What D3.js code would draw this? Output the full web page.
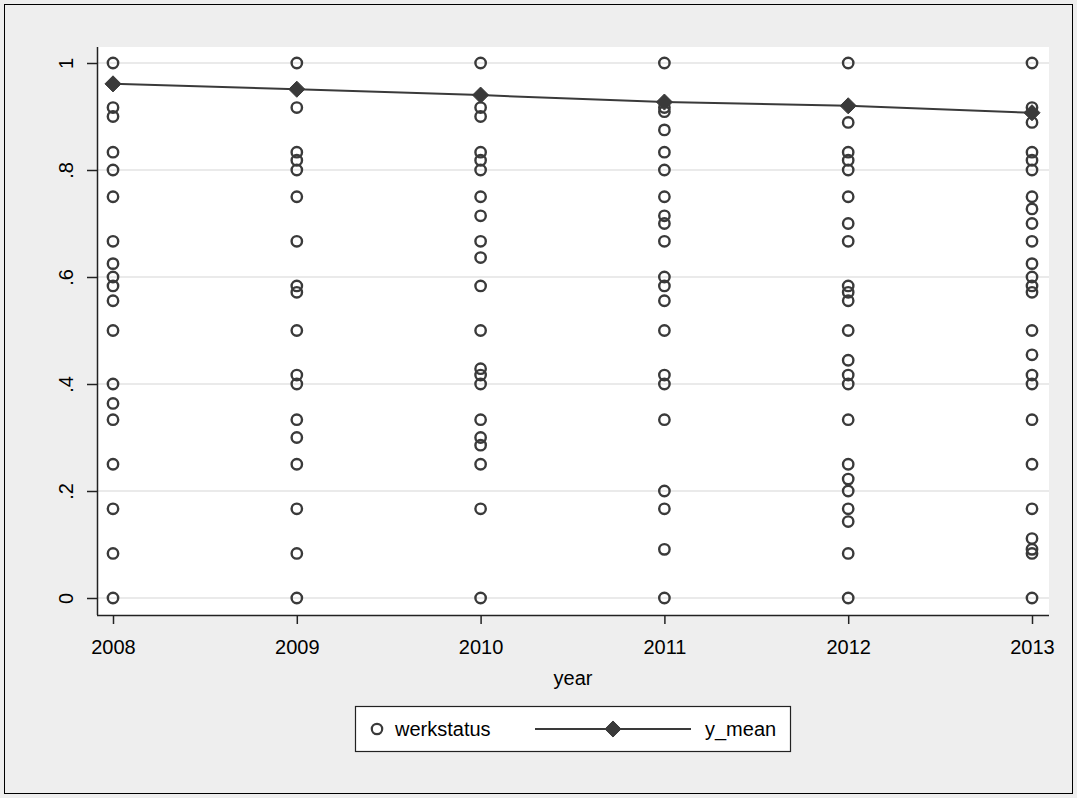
<!DOCTYPE html>
<html>
<head>
<meta charset="utf-8">
<script src="https://cdn.jsdelivr.net/npm/d3@7/dist/d3.min.js"></script>
<style>
  html, body { margin: 0; padding: 0; background: #eeeeee; }
  svg { display: block; font-family: "Liberation Sans", Arial, sans-serif; }
</style>
</head>
<body>
<svg id="chart" width="1077" height="798"></svg>
<script>
// Survey years on the x axis
const years = [2008, 2009, 2010, 2011, 2012, 2013];

// Observed werkstatus shares per year (distinct values)
const werk2008 = [1, .9167, .9, .8333, .8, .75, .6667, .625, .6, .5833, .5556, .5, .4, .3636, .3333, .25, .1667, .0833, 0];
const werk2009 = [1, .9167, .8333, .8182, .8, .75, .6667, .5833, .5714, .5, .4167, .4, .3333, .3, .25, .1667, .0833, 0];
const werk2010 = [1, .9167, .9, .8333, .8182, .8, .75, .7143, .6667, .6364, .5833, .5, .4286, .4167, .4, .3333, .3, .2857, .25, .1667, 0];
const werk2011 = [1, .9167, .9091, .875, .8333, .8, .75, .7143, .7, .6667, .6, .5833, .5556, .5, .4167, .4, .3333, .2, .1667, .0909, 0];
const werk2012 = [1, .8889, .8333, .8182, .8, .75, .7, .6667, .5833, .5714, .5556, .5, .4444, .4167, .4, .3333, .25, .2222, .2, .1667, .1429, .0833, 0];
const werk2013 = [1, .9167, .8889, .8333, .8182, .8, .75, .7273, .7, .6667, .625, .6, .5833, .5714, .5, .4545, .4167, .4, .3333, .25, .1667, .1111, .0909, .0833, 0];

// Yearly mean of werkstatus
const yMean = [0.961, 0.951, 0.940, 0.927, 0.920, 0.907];

// Axis tick values and labels
const yTicks = [0, 0.2, 0.4, 0.6, 0.8, 1];
const yTickLabels = ["0", ".2", ".4", ".6", ".8", "1"];
const legendLabels = ["werkstatus", "y_mean"];

const werkByYear = [werk2008, werk2009, werk2010, werk2011, werk2012, werk2013];
const points = [];
years.forEach((yr, i) => werkByYear[i].forEach(v => points.push({ year: yr, value: v })));
const meanSeries = years.map((yr, i) => ({ year: yr, value: yMean[i] }));

const svg = d3.select("#chart");
const W = 1077, H = 798;
const ink = "#3a3a3a";

// Outer graph region
svg.append("rect").attr("x", 0).attr("y", 0).attr("width", W).attr("height", H).attr("fill", "#eeeeee");
svg.append("rect").attr("x", 4.5).attr("y", 4.5).attr("width", W - 9).attr("height", H - 9)
  .attr("fill", "none").attr("stroke", "#000").attr("stroke-width", 1);

// Plot region
const plot = { left: 97, right: 1049, top: 47, bottom: 615 };
svg.append("rect").attr("x", plot.left).attr("y", plot.top)
  .attr("width", plot.right - plot.left).attr("height", plot.bottom - plot.top).attr("fill", "#ffffff");

const x = d3.scaleLinear().domain([2008, 2013]).range([113, 1032]);
const y = d3.scaleLinear().domain([0, 1]).range([598, 63]);

// Horizontal gridlines
svg.append("g").selectAll("line").data(yTicks).join("line")
  .attr("x1", plot.left).attr("x2", plot.right)
  .attr("y1", d => y(d)).attr("y2", d => y(d))
  .attr("stroke", "#eaeaea").attr("stroke-width", 2);

// Y axis with vertical tick labels
const yAxis = d3.axisLeft(y).tickValues(yTicks).tickFormat((d, i) => yTickLabels[i]).tickSize(10).tickPadding(12);
const gy = svg.append("g").attr("transform", `translate(${plot.left},0)`).call(yAxis);
gy.select(".domain").attr("d", `M0.5,${plot.top}V${plot.bottom}`).attr("stroke", "#222").attr("stroke-width", 1.5);
gy.selectAll(".tick line").attr("stroke", "#222").attr("stroke-width", 1.5);
gy.selectAll(".tick text")
  .attr("font-size", 20).attr("fill", "#000").attr("font-family", "Liberation Sans, Arial, sans-serif")
  .attr("text-anchor", "middle")
  .attr("transform", "translate(-31,0) rotate(-90)")
  .attr("x", 0).attr("y", 0).attr("dy", "0.35em");

// X axis
const xAxis = d3.axisBottom(x).tickValues(years).tickFormat(d3.format("d")).tickSize(9).tickPadding(16);
const gx = svg.append("g").attr("transform", `translate(0,${plot.bottom})`).call(xAxis);
gx.select(".domain").attr("d", `M${plot.left},0.5H${plot.right}`).attr("stroke", "#222").attr("stroke-width", 1.5);
gx.selectAll(".tick line").attr("stroke", "#222").attr("stroke-width", 1.5);
gx.selectAll(".tick text").attr("font-size", 20).attr("fill", "#000")
  .attr("font-family", "Liberation Sans, Arial, sans-serif");

// X axis title
svg.append("text").attr("x", (plot.left + plot.right) / 2).attr("y", 685)
  .attr("text-anchor", "middle").attr("font-size", 20).attr("fill", "#000").text("year");

// Scatter of werkstatus
svg.append("g").selectAll("circle").data(points).join("circle")
  .attr("cx", d => x(d.year)).attr("cy", d => y(d.value)).attr("r", 5.2)
  .attr("fill", "none").attr("stroke", ink).attr("stroke-width", 2.4);

// Mean line with diamond markers
const line = d3.line().x(d => x(d.year)).y(d => y(d.value));
svg.append("path").datum(meanSeries).attr("d", line)
  .attr("fill", "none").attr("stroke", ink).attr("stroke-width", 2);
const diamond = d3.symbol().type(d3.symbolDiamond2).size(165);
svg.append("g").selectAll("path").data(meanSeries).join("path")
  .attr("transform", d => `translate(${x(d.year)},${y(d.value)})`)
  .attr("d", diamond).attr("fill", ink).attr("stroke", ink).attr("stroke-width", 1);

// Legend
const lg = svg.append("g");
const legX = 355, legY = 706, legW = 435, legH = 45;
lg.append("rect").attr("x", legX + 0.5).attr("y", legY + 0.5).attr("width", legW).attr("height", legH)
  .attr("fill", "#fff").attr("stroke", "#222").attr("stroke-width", 1.2);
const midY = legY + legH / 2 + 0.5;
lg.append("circle").attr("cx", legX + 22).attr("cy", midY).attr("r", 5.2)
  .attr("fill", "none").attr("stroke", ink).attr("stroke-width", 2.2);
lg.append("text").attr("x", legX + 40).attr("y", midY).attr("dy", "0.35em")
  .attr("font-size", 20).attr("fill", "#000").text(legendLabels[0]);
lg.append("line").attr("x1", legX + 180).attr("x2", legX + 336).attr("y1", midY).attr("y2", midY)
  .attr("stroke", ink).attr("stroke-width", 2);
lg.append("path").attr("transform", `translate(${legX + 258},${midY})`)
  .attr("d", diamond).attr("fill", ink).attr("stroke", ink).attr("stroke-width", 1);
lg.append("text").attr("x", legX + 350).attr("y", midY).attr("dy", "0.35em")
  .attr("font-size", 20).attr("fill", "#000").text(legendLabels[1]);
</script>
</body>
</html>
